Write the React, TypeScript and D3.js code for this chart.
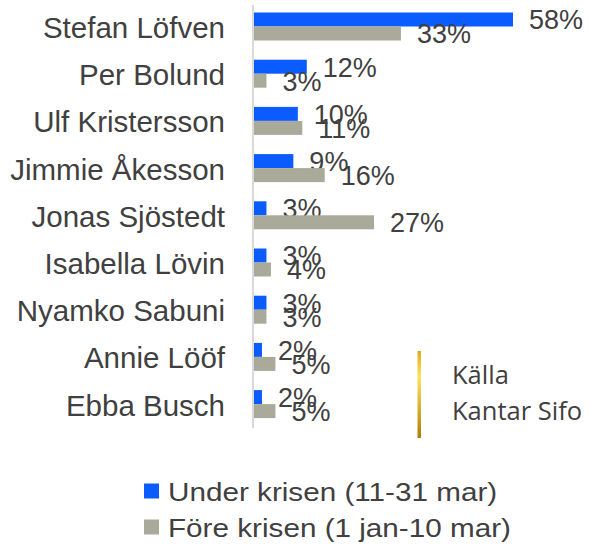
import * as d3 from "d3";

const names = [
  "Stefan Löfven",
  "Per Bolund",
  "Ulf Kristersson",
  "Jimmie Åkesson",
  "Jonas Sjöstedt",
  "Isabella Lövin",
  "Nyamko Sabuni",
  "Annie Lööf",
  "Ebba Busch",
];
const under = [58, 12, 10, 9, 3, 3, 3, 2, 2];
const fore = [33, 3, 11, 16, 27, 4, 3, 5, 5];
const seriesNames = ["Under krisen (11-31 mar)", "Före krisen (1 jan-10 mar)"];
const seriesColors = ["#0A5CFF", "#AAAA9A"];

const W = 589;
const H = 545;
const AXIS_X = 253;
const TEXT = "#404040";
const FONT = "'Liberation Sans', Arial, sans-serif";

export default function App() {
  const x = d3.scaleLinear().domain([0, 58]).range([AXIS_X, 513]);
  const y = d3.scaleBand<string>().domain(names).range([2.9, 427.7]).padding(0);
  const inner = d3
    .scaleBand<string>()
    .domain(seriesNames)
    .range([y.bandwidth() / 2 - 14, y.bandwidth() / 2 + 14]);

  const values = [under, fore];

  return (
    <svg
      width={W}
      height={H}
      style={{ position: "absolute", left: 0, top: 0, background: "#fff" }}
    >
      <defs>
        <linearGradient id="gold" x1="0" y1="0" x2="0" y2="1">
          <stop offset="0%" stopColor="#E0AA20" />
          <stop offset="30%" stopColor="#FFE35A" />
          <stop offset="100%" stopColor="#B07E08" />
        </linearGradient>
      </defs>

      {names.map((name, i) => {
        const y0 = y(name)!;
        return (
          <g key={name} transform={`translate(0,${y0})`}>
            <text
              x={225}
              y={y.bandwidth() / 2 + 1}
              textAnchor="end"
              dominantBaseline="central"
              fontFamily={FONT}
              fontSize={29.5}
              fill={TEXT}
            >
              {name}
            </text>
            {seriesNames.map((s, j) => {
              const v = values[j][i];
              const by = inner(s)!;
              return (
                <g key={s}>
                  <rect
                    x={AXIS_X}
                    y={by}
                    width={x(v) - AXIS_X}
                    height={inner.bandwidth()}
                    fill={seriesColors[j]}
                  />
                  <text
                    x={x(v) + 16}
                    y={by + inner.bandwidth() / 2 + 1}
                    dominantBaseline="central"
                    fontFamily={FONT}
                    fontSize={27}
                    fill={TEXT}
                  >
                    {v}%
                  </text>
                </g>
              );
            })}
          </g>
        );
      })}

      <line x1={AXIS_X} x2={AXIS_X} y1={5} y2={428} stroke="#D9D9D9" strokeWidth={2} />

      <rect x={417.5} y={351} width={3.5} height={87} fill="url(#gold)" />
      <text x={452} y={374} dominantBaseline="central" fontFamily="'Open Sans', sans-serif" fontSize={25.5} fill={TEXT}>
        Källa
      </text>
      <text x={452} y={410} dominantBaseline="central" fontFamily="'Open Sans', sans-serif" fontSize={25.5} fill={TEXT}>
        Kantar Sifo
      </text>

      {seriesNames.map((s, j) => (
        <g key={s} transform={`translate(144,${491 + j * 36})`}>
          <rect x={0} y={-7.5} width={15} height={15} fill={seriesColors[j]} />
          <text
            transform="translate(24,1) scale(1.12,1)"
            dominantBaseline="central"
            fontFamily={FONT}
            fontSize={26.5}
            fill={TEXT}
          >
            {s}
          </text>
        </g>
      ))}
    </svg>
  );
}
